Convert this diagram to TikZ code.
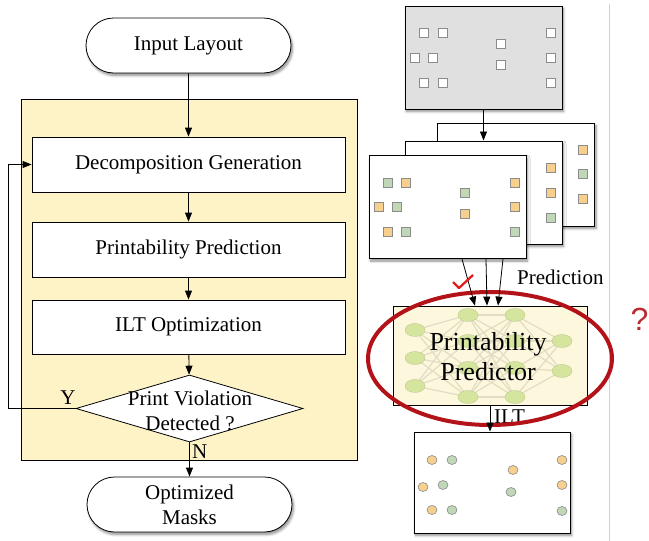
\documentclass[tikz,border=0pt]{standalone}
\usepackage{fontspec}
\setmainfont{Liberation Serif}
\newfontfamily\qfont{Liberation Sans}
\usetikzlibrary{arrows.meta,shapes.geometric,shapes.misc,shadows,shadows.blur,calc}

\definecolor{panelyellow}{RGB}{254,243,199}
\definecolor{predfill}{RGB}{252,247,221}
\definecolor{layoutgray}{RGB}{224,224,224}
\definecolor{padorange}{RGB}{246,208,140}
\definecolor{padgreen}{RGB}{192,215,184}
\definecolor{nnnode}{RGB}{213,229,158}
\definecolor{nnedge}{RGB}{226,221,194}
\definecolor{ringred}{RGB}{178,18,24}
\definecolor{tickred}{RGB}{226,30,30}

\begin{document}
\begin{tikzpicture}[x=1pt,y=-1pt,
  txt/.style={font=\fontsize{21}{25}\selectfont},
  softshadow/.style={blur shadow={shadow xshift=1.5pt,shadow yshift=-2.5pt,
    shadow blur steps=6,shadow blur radius=2.5pt,shadow opacity=45}},
  terminal/.style={rounded rectangle, draw, line width=0.8pt, fill=white,
    minimum width=205pt, minimum height=55pt, align=center, inner sep=0pt, softshadow, txt},
  process/.style={rectangle, draw, line width=0.8pt, fill=white,
    minimum width=313pt, minimum height=55pt, inner sep=0pt, txt},
  decision/.style={diamond, draw, line width=0.8pt, fill=white, inner sep=0pt,
    minimum width=227pt, minimum height=67pt},
  arr/.style={-{Triangle[length=9pt,width=7pt]}, line width=0.8pt},
  sheet/.style={rectangle, draw, line width=1pt, fill=white, inner sep=0pt,
    minimum width=157pt, minimum height=103pt, softshadow},
  pad/.style={rectangle, draw=black!45, line width=0.6pt, minimum size=9pt, inner sep=0pt},
  via/.style={ellipse, draw=black!45, line width=0.6pt, minimum width=10pt, minimum height=9pt, inner sep=0pt},
  nn/.style={ellipse, fill=nnnode, draw=nnnode!85!black, line width=0.3pt,
    minimum width=20pt, minimum height=13pt, inner sep=0pt},
  nnlink/.style={draw=nnedge, line width=1.2pt}
]
\useasboundingbox (0,0) rectangle (649,541);

% ---------------- flow on the left ----------------
\node[rectangle, draw, line width=0.8pt, fill=panelyellow, inner sep=0pt,
      minimum width=336pt, minimum height=361pt] (frame) at (189,279.5) {};

\node[terminal] (inp) at (188.5,45.5) {Input Layout};
\node[process] (dec) at (188.5,164.5) {Decomposition Generation};
\node[process] (prt) at (188.5,249.5) {Printability Prediction};
\node[process, minimum height=54pt] (ilt) at (188.5,327) {ILT Optimization};
\node[decision] (chk) at (189.5,408.5) {};
\node[txt, align=center, inner sep=0pt] (chktext) at (190,411) {Print Violation\\Detected ?};
\node[terminal] (out) at (189.5,504.5) {Optimized\\Masks};

\draw[arr] (inp) -- (dec);
\draw[arr] (dec) -- (prt);
\draw[arr] (prt) -- (ilt);
\draw[arr] (ilt) -- (chk);
\draw[arr] (chk) -- (chk.south |- out.north);
\node[txt, anchor=west, inner sep=0pt] (nlbl) at (192,452) {N};

\coordinate (loopx) at (8,0);
\draw[arr] (chk.west) -- (chk.west -| loopx) |- (dec.west);
\node[txt, inner sep=0pt] (ylbl) at (68,398) {Y};

% ---------------- layout and decompositions ----------------
\draw[gray!35, line width=0.8pt] (609,4) -- (609,541);

\node[sheet, fill=layoutgray] (lay) at (483.5,57.5) {};
\foreach \p in {(424,33),(443,33),(501,44),(551,33),(415,58),(433,58),
                (501,65),(551,58),(424,83),(443,83),(551,83)}
  \node[pad, fill=white] at \p {};

\node[sheet] (back) at (516,174.5) {};
\node[pad, fill=padorange] at (583,150) {};
\node[pad, fill=padgreen]  at (583,174) {};
\node[pad, fill=padorange] at (583,199) {};

\node[sheet] (mid) at (483.5,192.5) {};
\node[pad, fill=padorange] at (551,168) {};
\node[pad, fill=padorange] at (551,193) {};
\node[pad, fill=padgreen]  at (551,218) {};

\node[sheet] (front) at (447.5,207) {};
\foreach \p/\c in {(388,183)/padgreen,(406,183)/padorange,(379,207)/padorange,
                   (397,207)/padgreen,(388,232)/padorange,(406,232)/padgreen,
                   (465,193)/padgreen,(465,214)/padorange,(515,183)/padorange,
                   (515,207)/padorange,(515,232)/padgreen}
  \node[pad, fill=\c] at \p {};

\draw[arr] (lay.south) -- (mid.north);

% ---------------- predictor ----------------
\node[rectangle, draw, line width=0.8pt, fill=predfill, inner sep=0pt,
      minimum width=194pt, minimum height=99pt] (pred) at (490,355.5) {};

% network drawn faintly behind the label
\foreach \y [count=\i] in {330,358,386} \coordinate (a\i) at (415,\y);
\foreach \y [count=\i] in {315,341,368,397} \coordinate (b\i) at (468,\y);
\foreach \y [count=\i] in {315,341,368,397} \coordinate (c\i) at (515,\y);
\foreach \y [count=\i] in {341,371} \coordinate (d\i) at (562,\y);
\foreach \i in {1,2,3} \foreach \j in {1,...,4} \draw[nnlink] (a\i) -- (b\j);
\foreach \i in {1,...,4} \foreach \j in {1,...,4} \draw[nnlink] (b\i) -- (c\j);
\foreach \i in {1,...,4} \foreach \j in {1,2} \draw[nnlink] (c\i) -- (d\j);
\foreach \n in {a1,a2,a3,b1,b2,b3,b4,c1,c2,c3,c4,d1,d2} \node[nn] at (\n) {};

\node[align=center, inner sep=0pt, font=\fontsize{26}{30}\selectfont] (predtext) at (488,357)
  {Printability\\Predictor};

% ---------------- result ----------------
\node[sheet, minimum width=156pt, minimum height=101pt] (res) at (492,482.5) {};
\foreach \p/\c in {(432,460)/padorange,(452,460)/padgreen,(423,487)/padorange,
                   (443,485)/padgreen,(432,510)/padorange,(452,510)/padgreen,
                   (513,470)/padorange,(511,492)/padgreen,(562,460)/padorange,
                   (562,485)/padorange,(562,511)/padgreen}
  \node[via, fill=\c] at \p {};

\node[txt, anchor=west, inner sep=0pt] (iltlbl) at (494,417) {ILT};

% ---------------- highlight ----------------
\draw[ringred, line width=4pt] (490,358.5) ellipse [x radius=122, y radius=66.5];
\node[text=ringred!90!white, inner sep=0pt, font=\qfont\fontsize{32}{32}\selectfont] (qmark) at (639.5,319) {?};

% connectors into and out of the predictor, over the ring
\draw[arr] ([xshift=14.5pt]front.south) -- ([xshift=-15pt]pred.north);
\draw[arr] ([xshift=38.5pt]front.south) -- ([xshift=-3pt]pred.north);
\draw[arr] ([xshift=55.5pt]front.south) -- ([xshift=8pt]pred.north);
\node[txt, anchor=west, inner sep=0pt] (predlbl) at (517,277) {Prediction};
\draw[tickred, line width=2.3pt, line join=round] (453,282) -- (459,288) -- (473,275);
\draw[arr] (pred.south) -- (pred.south |- res.north);
\end{tikzpicture}
\end{document}
